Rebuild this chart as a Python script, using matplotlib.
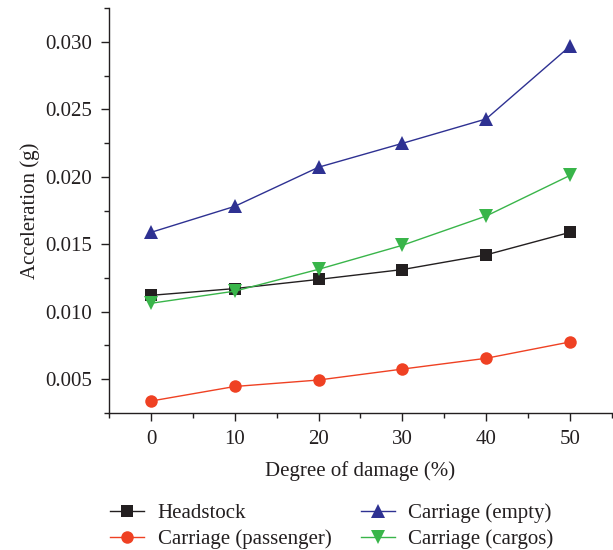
import matplotlib
matplotlib.use("Agg")
import matplotlib.pyplot as plt
from matplotlib.ticker import MultipleLocator

plt.rcParams['font.family'] = ['Liberation Serif', 'DejaVu Serif']

damage = [0, 10, 20, 30, 40, 50]
headstock = [0.01121, 0.01171, 0.01239, 0.01312, 0.01421, 0.01588]
passenger = [0.00337, 0.00445, 0.00493, 0.00574, 0.00654, 0.00775]
empty = [0.01588, 0.01781, 0.02071, 0.02248, 0.02429, 0.02968]
cargos = [0.01062, 0.01152, 0.01314, 0.01492, 0.01709, 0.02010]

labels = ["Headstock", "Carriage (passenger)", "Carriage (empty)", "Carriage (cargos)"]
colors = ["#231f20", "#ef4123", "#2e3192", "#39b54a"]
markers = ["s", "o", "^", "v"]
msizes = [8, 9, 10, 10]

fig = plt.figure(figsize=(6.13, 5.5), dpi=100)
ax = fig.add_axes([0.178, 0.249, 0.82, 0.736])

for y, lab, c, m, ms in zip([headstock, passenger, empty, cargos], labels, colors, markers, msizes):
    ax.plot(damage, y, color=c, marker=m, markersize=ms, linewidth=1.0, label=lab,
            markeredgewidth=0)

ax.set_xlim(-5, 55)
ax.set_ylim(0.00248, 0.0325)
ax.xaxis.set_major_locator(MultipleLocator(10))
ax.xaxis.set_minor_locator(MultipleLocator(5))
ax.yaxis.set_major_locator(MultipleLocator(0.005))
ax.yaxis.set_minor_locator(MultipleLocator(0.0025))
ax.yaxis.set_major_formatter(matplotlib.ticker.FormatStrFormatter('%.3f'))

for s in ['top', 'right']:
    ax.spines[s].set_visible(False)
for s in ['left', 'bottom']:
    ax.spines[s].set_linewidth(1.0)
    ax.spines[s].set_color('#231f20')

ax.tick_params(which='major', direction='out', length=6, width=1.0, labelsize=15,
               color='#231f20', labelcolor='#231f20', pad=6)
ax.tick_params(which='minor', direction='out', length=3.5, width=1.0, color='#231f20')

ax.set_xlabel("Degree of damage (%)", fontsize=15, color='#231f20', labelpad=9)
ax.set_ylabel("Acceleration (g)", fontsize=15, color='#231f20', labelpad=4)

fig.legend(loc='upper left', bbox_to_anchor=(0.179, 0.085), ncol=2, frameon=False,
           fontsize=15, handlelength=1.63, columnspacing=1.4, handletextpad=0.67,
           labelspacing=0.3, borderpad=0, borderaxespad=0, labelcolor='#231f20')

fig.savefig("out.png", dpi=100)
